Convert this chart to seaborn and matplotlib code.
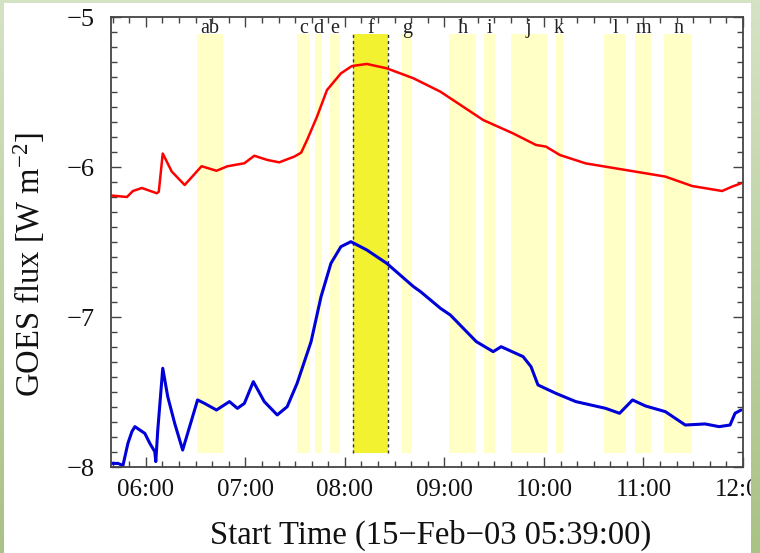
import matplotlib
matplotlib.use("Agg")
import matplotlib.pyplot as plt
import numpy as np
import pandas as pd
import seaborn as sns
from matplotlib.patches import Rectangle
from matplotlib.ticker import MultipleLocator, FixedLocator, FixedFormatter

# GOES X-ray flux (log10 W m^-2), time in decimal hours UT, 15-Feb-2003
long_hours = [5.65, 5.81, 5.87, 5.96, 6.11, 6.13, 6.17, 6.26, 6.39, 6.56, 6.71,
              6.82, 6.99, 7.09, 7.22, 7.34, 7.49, 7.56, 7.62, 7.72, 7.82, 7.96,
              8.07, 8.22, 8.42, 8.69, 8.96, 9.39, 9.69, 9.92, 10.02, 10.16,
              10.42, 10.62, 10.92, 11.22, 11.49, 11.79, 11.89, 11.98]
long_flux = [-6.19, -6.20, -6.16, -6.14, -6.175, -6.165, -5.91, -6.03, -6.12,
             -5.995, -6.025, -5.995, -5.975, -5.925, -5.953, -5.969, -5.931,
             -5.905, -5.82, -5.664, -5.487, -5.376, -5.327, -5.313, -5.342,
             -5.409, -5.498, -5.687, -5.776, -5.853, -5.864, -5.92, -5.976,
             -5.998, -6.031, -6.064, -6.127, -6.16, -6.131, -6.109]

short_hours = [5.65, 5.72, 5.77, 5.82, 5.86, 5.89, 5.99, 6.04, 6.09, 6.10,
               6.12, 6.17, 6.22, 6.29, 6.37, 6.44, 6.52, 6.59, 6.71, 6.84,
               6.92, 6.99, 7.08, 7.19, 7.32, 7.42, 7.52, 7.66, 7.76, 7.86,
               7.96, 8.06, 8.22, 8.42, 8.69, 8.76, 8.96, 9.06, 9.32, 9.49,
               9.57, 9.79, 9.87, 9.94, 10.12, 10.32, 10.62, 10.76, 10.89,
               11.02, 11.22, 11.42, 11.62, 11.76, 11.87, 11.92, 11.98]
short_flux = [-7.976, -7.976, -7.99, -7.842, -7.764, -7.731, -7.776, -7.842,
              -7.898, -7.964, -7.753, -7.342, -7.531, -7.709, -7.887, -7.731,
              -7.553, -7.576, -7.62, -7.564, -7.609, -7.576, -7.431, -7.564,
              -7.653, -7.598, -7.442, -7.165, -6.865, -6.642, -6.531, -6.498,
              -6.553, -6.642, -6.798, -6.831, -6.942, -6.987, -7.164, -7.231,
              -7.198, -7.264, -7.331, -7.453, -7.509, -7.564, -7.609, -7.642,
              -7.553, -7.593, -7.631, -7.72, -7.713, -7.731, -7.72, -7.642,
              -7.62]

# Time intervals of the analysed images
band_labels = ["ab", "c", "d", "e", "f", "g", "h", "i", "j", "k", "l", "m", "n"]
band_start = [6.517, 7.517, 7.697, 7.847, 8.077, 8.577, 9.047, 9.397, 9.667,
              10.117, 10.607, 10.917, 11.207]
band_end = [6.777, 7.647, 7.767, 7.947, 8.437, 8.677, 9.317, 9.507, 10.027,
            10.187, 10.827, 11.077, 11.487]
highlight_band = "f"

tick_hours = [6, 7, 8, 9, 10, 11, 12]
tick_labels = ["06:00", "07:00", "08:00", "09:00", "10:00", "11:00", "12:00"]
ytick_values = [-8, -7, -6, -5]

BAND_TOP, BAND_BOTTOM = -5.113, -7.907
LABEL_Y = -5.105

sns.set_theme(style="ticks")
plt.rcParams["font.family"] = ["Liberation Serif", "DejaVu Serif"]
plt.rcParams["mathtext.default"] = "regular"
plt.rcParams["axes.unicode_minus"] = True

W, H = 760, 553
fig = plt.figure(figsize=(W / 100, H / 100), dpi=100, facecolor="white")
ax = fig.add_axes([111 / W, 1 - 467 / H, 632 / W, 450 / H])
ax.set_facecolor("white")

# shaded image intervals
for lab, s, e in zip(band_labels, band_start, band_end):
    hi = lab == highlight_band
    ax.fill_between([s, e], BAND_BOTTOM, BAND_TOP,
                    color="#f2f230" if hi else "#ffffc6", lw=0, zorder=0)
    if hi:
        ax.vlines([s, e], BAND_BOTTOM, BAND_TOP, colors="#333333",
                  linestyles=(0, (2.2, 2.2)), lw=1.0, zorder=1)
    ax.text((s + e) / 2, LABEL_Y, lab, ha="center", va="baseline",
            fontsize=14.5, color="#222222", zorder=3)

df_long = pd.DataFrame({"hour": long_hours, "flux": long_flux})
df_short = pd.DataFrame({"hour": short_hours, "flux": short_flux})
sns.lineplot(data=df_long, x="hour", y="flux", color="#ff0000", lw=1.8,
             estimator=None, sort=False, ax=ax, zorder=2)
sns.lineplot(data=df_short, x="hour", y="flux", color="#0000d8", lw=2.2,
             estimator=None, sort=False, ax=ax, zorder=2)

ax.set_xlim(5.65, 12.0)
ax.set_ylim(-8, -5)
ax.xaxis.set_major_locator(FixedLocator(tick_hours))
ax.xaxis.set_major_formatter(FixedFormatter(tick_labels))
ax.xaxis.set_minor_locator(MultipleLocator(1 / 6))
ax.yaxis.set_major_locator(FixedLocator(ytick_values))
ax.yaxis.set_minor_locator(MultipleLocator(0.1))

ax.tick_params(which="both", direction="in", top=True, right=True,
               color="#444444", width=1.0, labelcolor="#111111")
ax.tick_params(axis="x", labelsize=18)
ax.tick_params(axis="y", labelsize=19)
ax.tick_params(which="major", length=7)
ax.tick_params(which="minor", length=4)
ax.tick_params(axis="x", which="major", pad=9)
ax.tick_params(axis="y", which="major", pad=12)
for sp in ax.spines.values():
    sp.set_color("#444444")
    sp.set_linewidth(1.3)

ax.set_xlabel("Start Time (15\u2212Feb\u221203 05:39:00)", fontsize=23.5,
              color="#111111")
ax.set_ylabel("GOES flux [W m$^{-2}$]", fontsize=23.5, color="#111111")
ax.xaxis.set_label_coords(0.505, -0.117)
ax.yaxis.set_label_coords(-0.102, 0.45)

# slide frame around the figure
grad = np.linspace(0, 1, 256).reshape(-1, 1)
frame_cmap = matplotlib.colors.LinearSegmentedColormap.from_list(
    "frame", ["#d5e3c5", "#a9c285"])
for rect in ([0, 0, 4 / W, 1], [751 / W, 0, 9 / W, 1]):
    fa = fig.add_axes(rect, zorder=10)
    fa.imshow(grad, aspect="auto", cmap=frame_cmap, origin="upper")
    fa.set_axis_off()
fig.add_artist(Rectangle((0, 1 - 3 / H), 1, 3 / H, transform=fig.transFigure,
                         color="#d5e3c5", lw=0, zorder=11))

fig.savefig("out.png", dpi=100, facecolor=fig.get_facecolor())
